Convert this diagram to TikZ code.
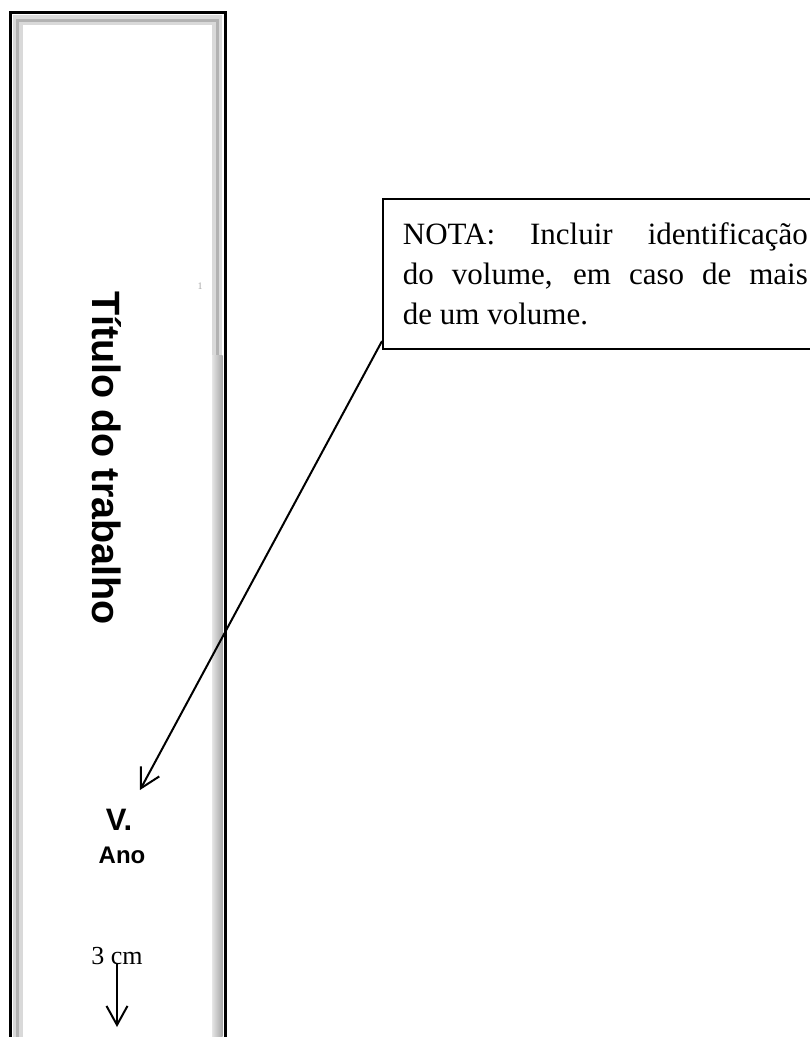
\documentclass[tikz,border=0pt]{standalone}
\usepackage{fontspec}
\setmainfont{Liberation Serif}
\newfontfamily\lombada{Liberation Sans}[BoldFont={Liberation Sans Bold}]
\usetikzlibrary{arrows.meta}

\begin{document}
\begin{tikzpicture}[x=1pt,y=-1pt,
      capa/.style ={font=\lombada\bfseries\fontsize{#1}{#1}\selectfont,inner sep=0pt},
      capa/.default=30,
      seta/.style ={line width=2pt,-{Straight Barb[length=19pt,width=21pt]}},
      moldura/.style ={line width=#1}]
    \useasboundingbox (0,0) rectangle (810,1037);
    % lombada
    \draw[moldura=3pt] (10,1040) |- (225,12.5) -- (225,1040);
    \draw[moldura=10pt,gray!30] (18,1040) |- (217,20) -- (217,1040);
    \draw[moldura=2.5pt,gray!60] (17.5,1040) |- (217.5,20.5) -- (217.5,1040);
    \shade[left color=gray!20,right color=gray!70] (212,355) rectangle (222.5,1037);
    \node[capa=39.5,rotate=-90,anchor=base] (titulo) at (92,458) {Título do trabalho};
    \node[font=\fontsize{10}{10}\selectfont,text=gray!70,inner sep=0pt] (pagina) at (200,286) {1};
    \node[capa=31,anchor=base] (vol) at (119,830) {V.};
    \node[capa=24,anchor=base] (ano) at (122,863) {Ano};
    \node[font=\fontsize{26}{26}\selectfont,inner sep=0pt,anchor=base] (margem) at (117,964) {3 cm};
    \coordinate (fim) at (117,1027);
    \draw[seta] (margem.south) -- (fim);
    % nota
    \node[draw,line width=1.8pt,anchor=north west,text width=405pt,inner xsep=20pt,inner ysep=24pt,
          align=justify,font=\fontsize{31}{40}\selectfont] (nota) at (382,198)
          {NOTA: Incluir identificação\linebreak do volume, em caso de mais\linebreak de um volume.};
    \coordinate (volptr) at (140,790);
    \draw[seta] ([yshift=9pt]nota.south west) -- (volptr);
\end{tikzpicture}
\end{document}
